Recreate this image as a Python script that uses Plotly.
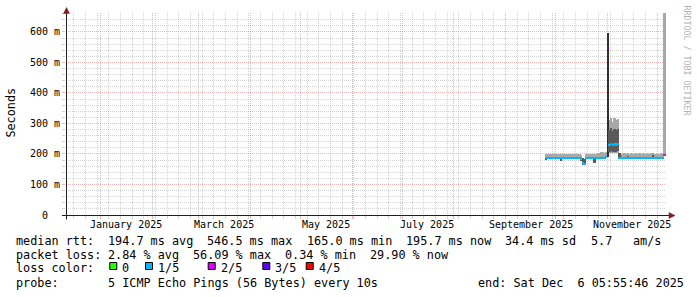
import pandas as pd
import plotly.graph_objects as go

# ---------------- data ----------------
x_start = "2024-12-11 05:55:46"
x_end = "2025-12-06 05:55:46"

days = pd.date_range("2025-09-25", "2025-12-05", freq="D")

# light smoke band (ms)
smoke_lo = ([189] * 6 +
            [189, 189, 189, 189, 189, 189, 189, 189, 189, 189, 189, 189, 189, 189, 189, 189,
             None, None, 189, 189, 189, 189, 189, 189, 189, 189, 189, 189, 189, 189, 189] +
            [None, 203, 204, 203, 204, 203, 204, None] + [190] * 22 +
            [190, 190, 190, 190, 195])
smoke_hi = ([200, 200, 201, 200, 200, 201] +
            [200, 201, 200, 200, 201, 200, 200, 201, 200, 200, 201, 200, 200, 201, 200, 198,
             None, None, 199, 201, 200, 201, 200, 200, 201, 202, 203, 205, 206, 204, 206] +
            [None, 312, 318, 306, 318, 310, 316, None,
             201, 200, 202, 200, 203, 201, 204, 201, 200, 203, 201, 202, 200, 204, 201, 200,
             202, 201, 203, 202, 200, 201] +
            [201, 200, 202, 201, 700])
# dark smoke band (ms)
dark_lo = ([180] + [None] * 5 +
           [None, None, None, 178] + [None] * 11 + [178, 164, 163] + [None] * 5 + [171] + [None] * 7 +
           [190, 208, 209, 207, 208, 207, 209, 187] + [None] * 4 + [184] + [None] * 14 + [183] + [None] * 2 +
           [None] * 5)
dark_hi = ([189] + [None] * 5 +
           [None, None, None, 189] + [None] * 11 + [189, 186, 185] + [None] * 5 + [189] + [None] * 7 +
           [597, 280, 284, 276, 283, 279, 281, 204] + [None] * 4 + [192] + [None] * 14 + [196] + [None] * 2 +
           [None] * 5)
# median rtt (ms)
median = ([187] * 6 +
          [187, 187, 187, 186, 187, 187, 187, 187, 187, 187, 187, 187, 187, 187, 187, 185,
           170, 167, 187, 187, 187, 187, 187, 187, 187, 187, 187, 188, 188, 188, 189] +
          [546, 230, 233, 229, 232, 231, 233, 188] + [188] * 22 +
          [188, 188, 188, 188, 197])
# lost pings out of 5
loss = [1] * 37 + [3] + [1] * 33 + [2]

loss_colors = ["#26ff00", "#00b8ff", "#dd00ff", "#5e00ff", "#ff0000"]
loss_labels = ["0", "1/5", "2/5", "3/5", "4/5"]

ytick_vals = [0, 100, 200, 300, 400, 500, 600]
ytick_text = ["0", "100 m", "200 m", "300 m", "400 m", "500 m", "600 m"]
month_label_dates = ["2025-01-16", "2025-03-16", "2025-05-16", "2025-07-16", "2025-09-16", "2025-11-16"]
month_labels = ["January 2025", "March 2025", "May 2025", "July 2025", "September 2025", "November 2025"]

legend_rtt = ["median rtt:", "194.7 ms avg", "546.5 ms max", "165.0 ms min", "195.7 ms now",
              "34.4 ms sd", "5.7", "am/s"]
legend_loss = ["packet loss:", "2.84 % avg", "56.09 % max", "0.34 % min", "29.90 % now"]
legend_color = "loss color:"
legend_probe = ["probe:", "5 ICMP Echo Pings (56 Bytes) every 10s"]
legend_end = "end: Sat Dec  6 05:55:46 2025"
watermark = "RRDTOOL / TOBI OETIKER"
y_title = "Seconds"

# ---------------- layout constants ----------------
W, H = 697, 297
L, R, T, B = 66, 31, 13, 82
PW, PH = W - L - R, H - T - B
MONO = "DejaVu Sans Mono"
MGRID = "rgba(222,79,79,0.42)"
GRID = "rgba(143,143,143,0.38)"
ARROW = "#7f1f1f"
AXIS = "#1f1f1f"
MED_HALF = 3.5
DAY_MS = 86400000
LEG = 11.8
CH = 7.1          # character advance of legend font (px)
TX0 = 15.5        # legend text left edge (px)


def px_x(px):
    return (px - L) / PW


def px_y(py):
    return (H - B - py) / PH


def nb(s):
    return s.replace(" ", "\u00a0")


def span(lo, hi):
    base = [a if (a is not None and b is not None) else None for a, b in zip(lo, hi)]
    height = [(b - a) if (a is not None and b is not None) else None for a, b in zip(lo, hi)]
    return base, height


centers = [(d + pd.Timedelta(hours=12)).strftime("%Y-%m-%d %H:%M:%S") for d in days]

fig = go.Figure()

lb, lh = span(smoke_lo, smoke_hi)
fig.add_trace(go.Bar(x=centers, y=lh, base=lb, width=DAY_MS,
                     marker=dict(color="#a8a8a8", line=dict(width=0)), hoverinfo="skip"))
db, dh = span(dark_lo, dark_hi)
dark_cols = ["#303030" if (h is not None and h > 300) else "#5a5a5a" for h in dh]
fig.add_trace(go.Bar(x=centers, y=dh, base=db, width=DAY_MS,
                     marker=dict(color=dark_cols, line=dict(width=0)), hoverinfo="skip"))
fig.add_trace(go.Bar(x=centers, y=[2 * MED_HALF] * len(median),
                     base=[m - MED_HALF for m in median], width=DAY_MS,
                     marker=dict(color=[loss_colors[k] for k in loss], line=dict(width=0)),
                     hoverinfo="skip"))

annotations = []


def text_at(txt, xpx, ypx_center, size=LEG, anchor="left", color="#000000", angle=0):
    annotations.append(dict(x=px_x(xpx), xref="paper", y=px_y(ypx_center), yref="paper",
                            text=nb(txt), showarrow=False, xanchor=anchor, yanchor="middle",
                            textangle=angle, borderpad=0, borderwidth=0,
                            font=dict(family=MONO, size=size, color=color)))


for v, t in zip(ytick_vals, ytick_text):
    annotations.append(dict(x=px_x(45), xref="paper", y=v, yref="y", text=nb(t), showarrow=False,
                            xanchor="center", yanchor="middle", borderpad=0, borderwidth=0,
                            font=dict(family=MONO, size=10, color="#000000")))
for d, t in zip(month_label_dates, month_labels):
    annotations.append(dict(x=d, xref="x", y=px_y(224.2), yref="paper", text=nb(t), showarrow=False,
                            xanchor="center", yanchor="middle", borderpad=0, borderwidth=0,
                            font=dict(family=MONO, size=10, color="#000000")))
text_at(y_title, 10.6, 113, anchor="center", angle=-90)
text_at(watermark, 686.5, 60, size=8.3, anchor="center", color="#b4b4b4", angle=90)

BASE_OFF = 0.346 * LEG
rtt_cols = [0, 13, 27, 41, 55, 69, 81, 87]
for txt, c in zip(legend_rtt, rtt_cols):
    text_at(txt, TX0 + c * CH, 245.0 - BASE_OFF)
loss_cols = [0, 13, 25, 38, 50]
for txt, c in zip(legend_loss, loss_cols):
    text_at(txt, TX0 + c * CH, 259.3 - BASE_OFF)
text_at(legend_color, TX0, 271.7 - BASE_OFF)
for txt, c in zip(legend_probe, [0, 13]):
    text_at(txt, TX0 + c * CH, 287.3 - BASE_OFF)
text_at(legend_end, 477.8, 287.3 - BASE_OFF)

shapes = []
box_lefts = [109.3, 145.0, 207.7, 262.3, 305.7]
for bl, col, lab in zip(box_lefts, loss_colors, loss_labels):
    shapes.append(dict(type="rect", xref="paper", yref="paper",
                       x0=px_x(bl + 0.5), x1=px_x(bl + 7.5), y0=px_y(262.5), y1=px_y(269.5),
                       fillcolor=col, line=dict(color="#000000", width=1)))
    text_at(lab, bl + 13, 271.7 - BASE_OFF)

# axes lines and arrows
shapes.append(dict(type="line", xref="paper", yref="paper", x0=px_x(66.5), x1=px_x(66.5),
                   y0=px_y(219.5), y1=px_y(11), line=dict(color=AXIS, width=1)))
shapes.append(dict(type="line", xref="paper", yref="paper", x0=px_x(62), x1=px_x(670),
                   y0=px_y(215.5), y1=px_y(215.5), line=dict(color=AXIS, width=1)))
shapes.append(dict(type="path", xref="paper", yref="paper",
                   path="M {} {} L {} {} L {} {} Z".format(px_x(63.5), px_y(13.5), px_x(69.5), px_y(13.5),
                                                          px_x(66.5), px_y(7.5)),
                   fillcolor=ARROW, line=dict(color=ARROW, width=0.5)))
shapes.append(dict(type="path", xref="paper", yref="paper",
                   path="M {} {} L {} {} L {} {} Z".format(px_x(669), px_y(212.5), px_x(669), px_y(218.5),
                                                          px_x(675), px_y(215.5)),
                   fillcolor=ARROW, line=dict(color=ARROW, width=0.5)))

fig.update_layout(
    width=W, height=H, autosize=False,
    margin=dict(l=L, r=R, t=T, b=B, pad=0),
    paper_bgcolor="#ffffff", plot_bgcolor="#ffffff",
    showlegend=False, barmode="overlay", bargap=0,
    annotations=annotations, shapes=shapes,
    xaxis=dict(type="date", range=[x_start, x_end], showticklabels=False, zeroline=False,
               showline=False, showgrid=True, gridcolor=MGRID, griddash="1px,1px", gridwidth=1,
               dtick="M1", tick0="2025-01-01", ticks="outside", ticklen=3, tickcolor=MGRID,
               minor=dict(dtick=7 * DAY_MS, tick0="2024-12-16", showgrid=True, gridcolor=GRID,
                          griddash="1px,1px", gridwidth=1, ticks="outside", ticklen=3, tickcolor=GRID),
               fixedrange=True),
    yaxis=dict(range=[0, 662], showticklabels=False, zeroline=False, showline=False,
               showgrid=True, gridcolor=MGRID, griddash="1px,1px", gridwidth=1,
               dtick=100, tick0=0, ticks="outside", ticklen=3, tickcolor=MGRID,
               minor=dict(dtick=20, showgrid=True, gridcolor=GRID, griddash="1px,1px", gridwidth=1,
                          ticks="outside", ticklen=3, tickcolor=GRID),
               fixedrange=True),
)

fig.write_html("out.html")
